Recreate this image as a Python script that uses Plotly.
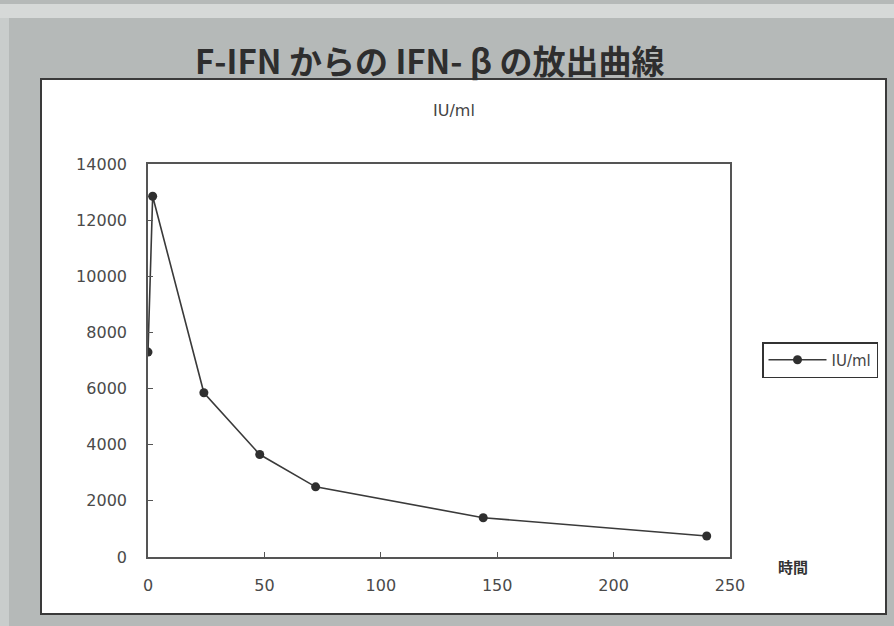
import plotly.graph_objects as go

# Release of IFN-beta from F-IFN over time
hours = [0, 2, 24, 48, 72, 144, 240]
iu_per_ml = [7300, 12850, 5850, 3650, 2500, 1400, 750]
series_name = "IU/ml"

x_ticks = [0, 50, 100, 150, 200, 250]
y_ticks = [0, 2000, 4000, 6000, 8000, 10000, 12000, 14000]
y_tick_text = [str(v) for v in y_ticks]

W, H = 894, 626
L, R, T, B = 148, 164, 164, 69
PW, PH = W - L - R, H - T - B


def px(x):
    return (x - L) / PW


def py(y):
    return (H - B - y) / PH


fig = go.Figure()
fig.add_trace(go.Scatter(
    x=hours, y=iu_per_ml, name=series_name, mode="lines+markers",
    line=dict(color="#3a3a3a", width=1.6),
    marker=dict(color="#2f2f2f", size=9, symbol="circle"),
))

tick_font = dict(family="DejaVu Sans", size=16, color="#4a4a4a")

fig.update_xaxes(
    range=[0, 250], tickvals=x_ticks, ticks="inside", ticklen=5,
    tickcolor="#555", showgrid=False, zeroline=False,
    showline=True, linecolor="#555", linewidth=1.6, mirror=True,
    tickfont=tick_font, ticklabelstandoff=13,
)
fig.update_yaxes(
    range=[0, 14000], tickvals=y_ticks, ticktext=y_tick_text,
    ticks="inside", ticklen=5,
    tickcolor="#555", showgrid=False, zeroline=False,
    showline=True, linecolor="#555", linewidth=1.6, mirror=True,
    tickfont=tick_font, ticklabelstandoff=16,
)

shapes = [
    # light strip along the top edge
    dict(type="rect", xref="paper", yref="paper", layer="below",
         x0=px(0), x1=px(W), y0=py(18), y1=py(4),
         fillcolor="#d6d9d8", line=dict(width=0)),
    # light strip along the left edge
    dict(type="rect", xref="paper", yref="paper", layer="below",
         x0=px(0), x1=px(9), y0=py(H), y1=py(18),
         fillcolor="#c9cdcc", line=dict(width=0)),
    # white chart panel
    dict(type="rect", xref="paper", yref="paper", layer="below",
         x0=px(41), x1=px(886), y0=py(614), y1=py(79),
         fillcolor="white", line=dict(color="#3a3a3a", width=2)),
]

annotations = [
    dict(text="<b>F-IFN からの IFN- β の放出曲線</b>", xref="paper", yref="paper",
         x=px(430), y=py(60), xanchor="center", yanchor="middle", showarrow=False,
         font=dict(family="Noto Sans CJK JP", size=33, color="#2e2e2e")),
    dict(text="IU/ml", xref="paper", yref="paper",
         x=px(454), y=py(110), xanchor="center", yanchor="middle", showarrow=False,
         font=dict(family="DejaVu Sans", size=16, color="#444")),
    dict(text="<b>時間</b>", xref="paper", yref="paper",
         x=px(793), y=py(566), xanchor="center", yanchor="middle", showarrow=False,
         font=dict(family="Noto Sans CJK JP", size=15, color="#333")),
]

fig.update_layout(
    width=W, height=H,
    margin=dict(l=L, r=R, t=T, b=B, pad=0),
    paper_bgcolor="#b5b9b8", plot_bgcolor="white",
    shapes=shapes, annotations=annotations,
    showlegend=True,
    legend=dict(x=px(762), y=py(342), xanchor="left", yanchor="top",
                bgcolor="white", bordercolor="#333", borderwidth=1.5,
                font=dict(family="DejaVu Sans", size=15, color="#444"),
                itemwidth=58, tracegroupgap=0),
)

fig.write_html("out.html")
